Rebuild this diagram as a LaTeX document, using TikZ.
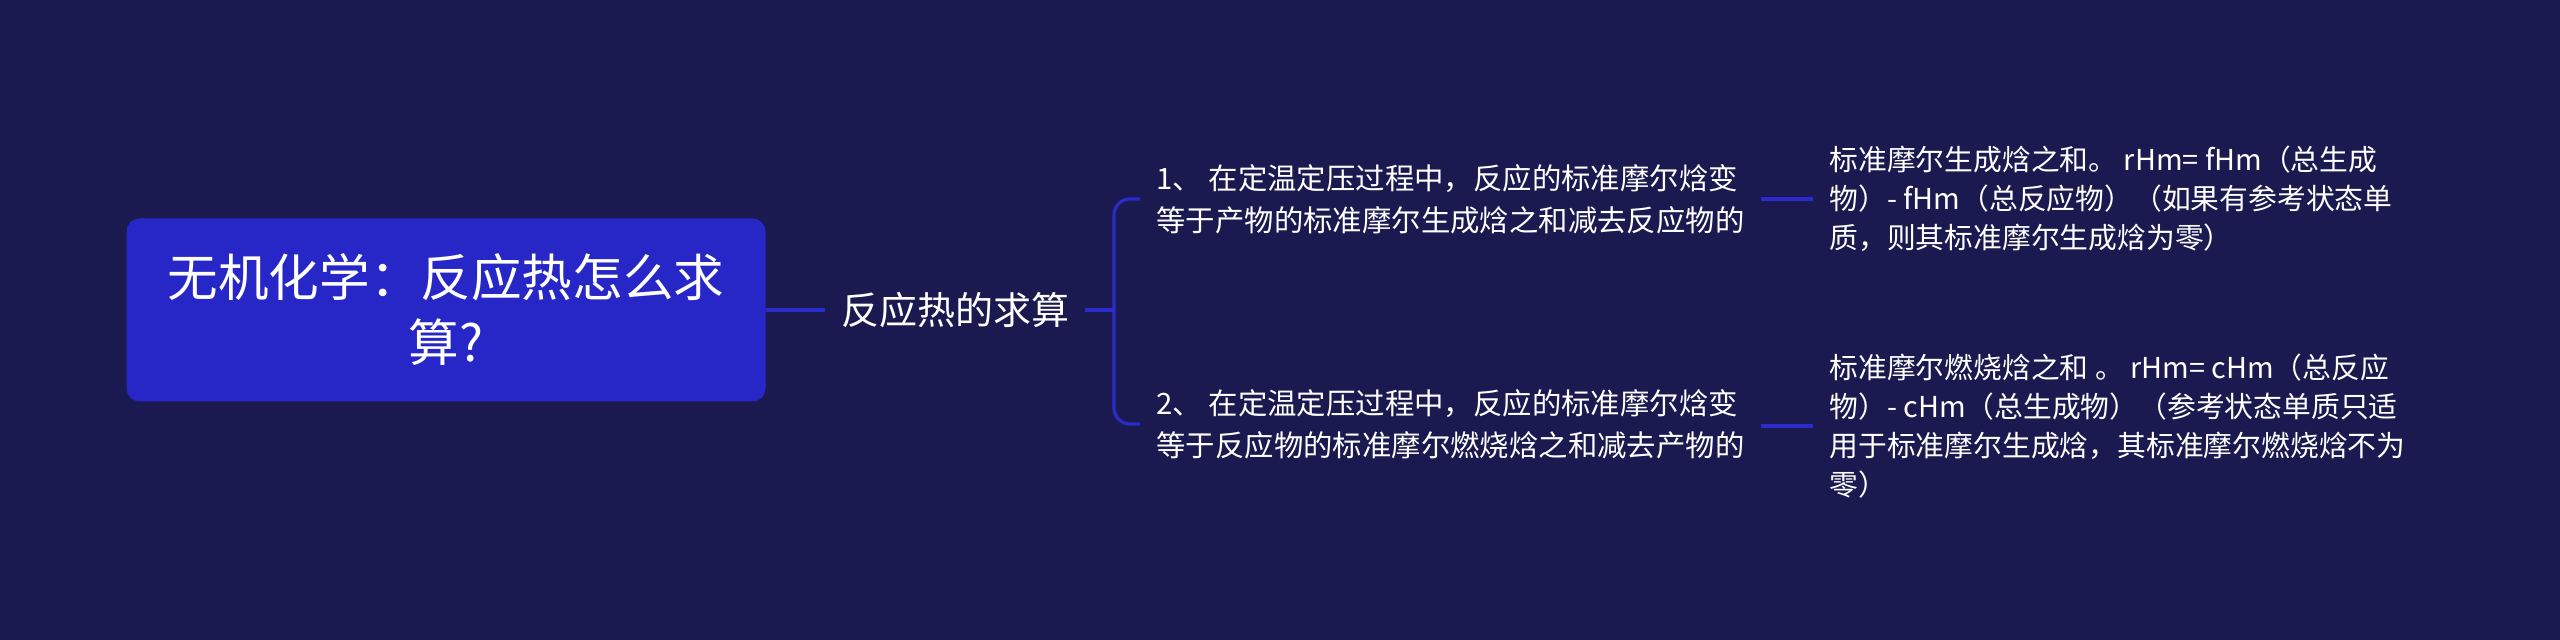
\documentclass[tikz,border=0pt]{standalone}
\usepackage{fontspec}
\setmainfont{Noto Sans CJK SC}
\definecolor{bg}{HTML}{1A1950}
\definecolor{rootblue}{HTML}{2727C8}
\definecolor{linkblue}{HTML}{2B2BC9}
\tikzset{
  rootbox/.style={rectangle, rounded corners=6.5pt, fill=rootblue, text=white,
    minimum width=319.5pt, minimum height=91.5pt, align=center,
    font=\fontsize{25.3pt}{32.5pt}\selectfont},
  sublabel/.style={text=white, inner xsep=8pt, inner ysep=2pt,
    font=\fontsize{19pt}{24pt}\selectfont},
  childtxt/.style={text=white, inner xsep=8pt, inner ysep=2pt, align=left, anchor=west,
    font=\fontsize{14.7pt}{21pt}\selectfont},
  leaftxt/.style={text=white, inner xsep=8pt, inner ysep=2pt, align=left, anchor=west,
    font=\fontsize{14.4pt}{19.5pt}\selectfont},
  link/.style={draw=linkblue, line width=1.6pt}
}
\begin{document}
\begin{tikzpicture}[x=0.5pt,y=-0.5pt]
\fill[bg] (0,0) rectangle (2560,640);
\useasboundingbox (0,0) rectangle (2560,640);
\node[rootbox] (root) at (446,310) {无机化学：反应热怎么求\\算?};
\node[sublabel] (sub) at (955,310) {反应热的求算};
\node[childtxt] (c1) at (1140,199) {1、 在定温定压过程中，反应的标准摩尔焓变\\等于产物的标准摩尔生成焓之和减去反应物的};
\node[childtxt] (c2) at (1140,424) {2、 在定温定压过程中，反应的标准摩尔焓变\\等于反应物的标准摩尔燃烧焓之和减去产物的};
\node[leaftxt] (l1) at (1813,199) {标准摩尔生成焓之和。 rHm= fHm（总生成\\物）- fHm（总反应物）（如果有参考状态单\\质，则其标准摩尔生成焓为零）};
\node[leaftxt] (l2) at (1813,426) {标准摩尔燃烧焓之和 。 rHm= cHm（总反应\\物）- cHm（总生成物）（参考状态单质只适\\用于标准摩尔生成焓，其标准摩尔燃烧焓不为\\零）};
\coordinate (bx) at (1114,310);
\draw[link] (root.east) -- (sub.west);
\draw[link] (sub.east) -- (bx);
\draw[link, rounded corners=8pt] (c1.west) -| (bx) |- (c2.west);
\draw[link] (c1.east) -- (l1.west);
\draw[link] (c2.east |- l2.west) -- (l2.west);
\end{tikzpicture}
\end{document}
